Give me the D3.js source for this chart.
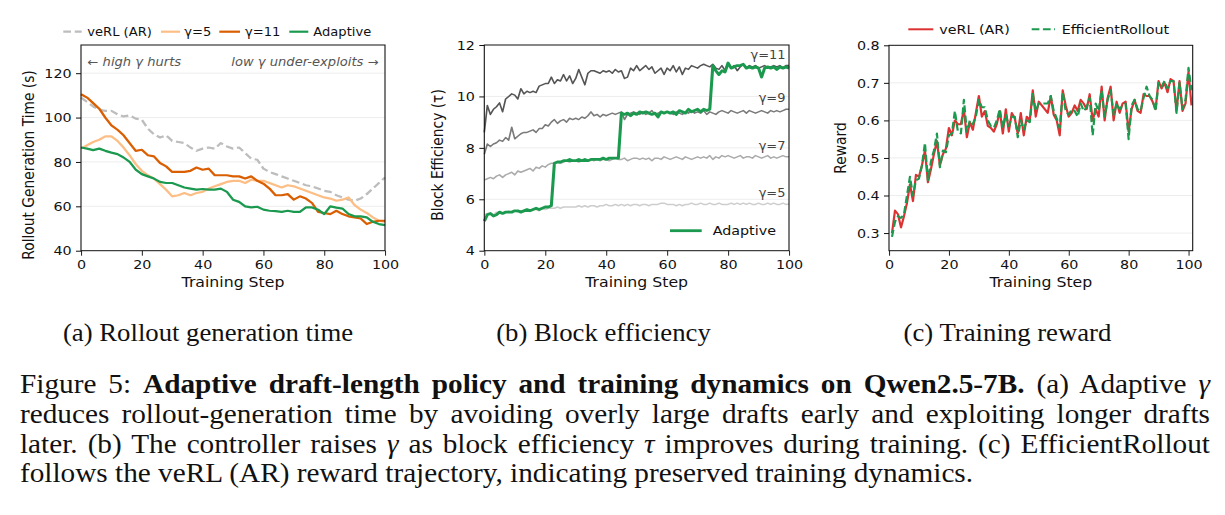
<!DOCTYPE html>
<html><head><meta charset="utf-8">
<script src="https://cdn.jsdelivr.net/npm/d3@7"></script>
<style>body{margin:0;background:#fff}svg{display:block}</style>
</head><body>
<script>
// ---------------- DATA ----------------
// (a) Rollout generation time (s), every 2 training steps
const stepsA = [0,2,4,6,8,10,12,14,16,18,20,22,24,26,28,30,32,34,36,38,40,42,44,46,48,50,52,54,56,58,60,62,64,66,68,70,72,74,76,78,80,82,84,86,88,90,92,94,96,98,100];
const timeVerl = [109,107,105,103.5,103,103,101.5,100.5,101,99.5,99,95,92.5,91,92,89.5,89,88.5,86.5,85,86,86.5,86,88.5,87,86,86.5,84,81.5,81,77,75.5,74.5,73.5,72.5,71.5,70.5,69.5,69,68,67,66.5,65,64,63,62.5,63.5,65.5,68,70.5,73];
const timeG5 = [86,87.5,89,90,91.5,91.5,89.5,86.5,83,79,76,74,72.5,70,67.5,64.5,65,66,65,66,66.5,68,69,70,71,71.5,71.5,70.5,72,71.5,71.5,70.5,69.5,68.5,69.5,69,68,67,66,65,64,63.5,62.5,63,64,60.5,58.5,57,55,53.5,53];
const timeG11 = [110.5,109,106.5,104,100,96.5,94.5,92,88.5,85,85.5,83,82.5,79.5,78,75.5,75.5,75.5,76,77.5,76.5,77,74,74,74,73.5,73.5,72.5,73.5,71.5,70.2,68,65,65,65.5,63,64.5,63.5,61.5,57.5,57,56.5,58,56.5,55.5,55,54.5,52,53,53.5,53.5];
const timeAdaptive = [86.5,86,85.3,86,85,84.2,83.5,82,80,76.5,74.5,73.5,72.5,71,70.5,70.5,69.5,68.5,68,67.5,67.8,67.5,67.5,68,66.5,63,62,60,59.5,59.8,58.5,58,57.8,57.5,58,57.5,57.5,59.5,59.5,58.5,56.5,60,59.4,59,56.5,55.5,55.5,55,53,52,51.5];
const seriesA = ["veRL (AR)","γ=5","γ=11","Adaptive"];
const ticksA_y = [40,60,80,100,120];

// (b) Block efficiency (tau), steps 0..100
const stepsB = [0,1,2,3,4,5,6,7,8,9,10,11,12,13,14,15,16,17,18,19,20,21,22,23,24,25,26,27,28,29,30,31,32,33,34,35,36,37,38,39,40,41,42,43,44,45,46,47,48,49,50,51,52,53,54,55,56,57,58,59,60,61,62,63,64,65,66,67,68,69,70,71,72,73,74,75,76,77,78,79,80,81,82,83,84,85,86,87,88,89,90,91,92,93,94,95,96,97,98,99,100];
const tauG11 = [8.6,9.65,9.3,9.5,9.6,9.75,9.4,9.9,10.0,10.1,
 10.05,9.9,10.3,10.1,10.2,10.15,10.2,10.15,10.4,10.45,
 10.5,10.5,10.75,10.5,10.65,10.6,10.85,10.6,10.8,10.5,
 10.7,11.05,10.75,10.45,10.9,11.0,11.0,10.95,10.9,11.0,
 10.95,11.0,10.9,11.05,10.95,11.0,10.7,10.75,11.1,11.0,
 11.2,11.0,11.1,11.2,11.05,11.15,10.9,11.0,11.1,10.85,
 11.1,11.0,11.2,10.95,11.15,10.85,11.1,11.05,11.2,11.15,
 11.1,11.2,11.25,11.2,11.15,11.25,11.1,11.05,11.2,11.0,
 11.3,11.1,11.2,11.0,11.15,11.25,11.1,11.2,11.15,11.2,
 11.1,11.15,11.2,11.1,11.15,11.2,11.15,11.2,11.1,11.2,
 11.2];
const tauG9 = [7.75,8.15,8.05,8.15,8.2,8.3,8.25,8.4,8.3,8.8,
 8.35,8.45,8.55,8.6,8.6,8.65,8.7,8.6,8.75,8.75,
 8.9,8.85,9.0,9.1,8.95,9.05,9.1,9.0,9.15,9.1,
 9.15,9.1,9.2,9.15,9.25,9.4,9.25,9.3,9.2,9.3,
 9.25,9.3,9.35,9.3,9.35,9.4,9.1,9.3,9.35,9.4,
 9.35,9.3,9.4,9.3,9.35,9.45,9.3,9.35,9.4,9.35,
 9.4,9.35,9.3,9.4,9.35,9.3,9.4,9.35,9.45,9.35,
 9.4,9.35,9.45,9.3,9.4,9.35,9.3,9.4,9.45,9.4,
 9.35,9.45,9.4,9.35,9.4,9.45,9.35,9.45,9.4,9.35,
 9.4,9.45,9.4,9.35,9.45,9.4,9.45,9.4,9.45,9.5,
 9.5];
const tauG7 = [6.75,6.8,6.85,6.8,6.9,6.95,6.85,6.95,7.0,7.05,
 6.95,7.1,7.05,7.1,7.15,7.2,7.1,7.25,7.2,7.3,
 7.25,7.35,7.4,7.4,7.45,7.4,7.45,7.5,7.45,7.5,
 7.5,7.45,7.5,7.55,7.5,7.55,7.5,7.55,7.5,7.55,
 7.55,7.5,7.55,7.6,7.55,7.55,7.6,7.5,7.55,7.6,
 7.6,7.55,7.6,7.55,7.6,7.5,7.6,7.6,7.55,7.65,
 7.6,7.55,7.6,7.65,7.6,7.55,7.65,7.6,7.55,7.6,
 7.65,7.6,7.65,7.6,7.7,7.55,7.65,7.6,7.7,7.65,
 7.7,7.65,7.6,7.65,7.7,7.6,7.65,7.65,7.6,7.7,
 7.65,7.6,7.65,7.7,7.6,7.65,7.6,7.65,7.7,7.65,
 7.65];
const tauG5 = [5.4,5.45,5.45,5.4,5.5,5.5,5.45,5.5,5.55,5.5,
 5.55,5.5,5.55,5.5,5.6,5.55,5.6,5.6,5.55,5.65,
 5.6,5.65,5.65,5.65,5.7,5.65,5.7,5.7,5.7,5.7,
 5.7,5.75,5.7,5.75,5.7,5.75,5.75,5.7,5.75,5.75,
 5.8,5.75,5.75,5.8,5.75,5.8,5.75,5.8,5.75,5.8,
 5.8,5.75,5.8,5.8,5.75,5.8,5.8,5.8,5.85,5.85,
 5.8,5.8,5.8,5.75,5.8,5.75,5.8,5.8,5.85,5.8,
 5.8,5.85,5.8,5.8,5.85,5.8,5.8,5.85,5.8,5.8,
 5.8,5.85,5.8,5.85,5.8,5.85,5.8,5.85,5.8,5.8,
 5.85,5.8,5.8,5.85,5.8,5.85,5.8,5.8,5.85,5.8,
 5.82];
const tauAdaptive = [5.15,5.4,5.45,5.35,5.4,5.5,5.45,5.5,5.5,5.5,
 5.55,5.55,5.5,5.55,5.6,5.55,5.6,5.65,5.6,5.65,
 5.7,5.7,5.75,7.4,7.45,7.45,7.5,7.5,7.55,7.5,
 7.5,7.55,7.5,7.55,7.5,7.55,7.55,7.55,7.55,7.6,
 7.55,7.6,7.6,7.6,7.6,9.35,9.3,9.35,9.25,9.35,
 9.3,9.4,9.35,9.4,9.35,9.3,9.35,9.2,9.4,9.35,
 9.4,9.35,9.4,9.3,9.45,9.4,9.35,9.5,9.4,9.45,
 9.5,9.4,9.5,9.45,9.5,11.2,11.0,10.85,11.0,10.95,
 11.3,11.1,11.15,11.2,11.2,11.25,11.1,11.15,11.1,11.15,
 11.1,10.75,11.1,11.15,11.1,11.15,11.05,11.15,11.1,11.15,
 11.1];
const gammaLabels = ["γ=11","γ=9","γ=7","γ=5"];
const ticksB_y = [4,6,8,10,12];

// (c) Training reward, steps 1..101
const stepsC = [1,2,3,4,5,6,7,8,9,10,11,12,13,14,15,16,17,18,19,20,21,22,23,24,25,26,27,28,29,30,31,32,33,34,35,36,37,38,39,40,41,42,43,44,45,46,47,48,49,50,51,52,53,54,55,56,57,58,59,60,61,62,63,64,65,66,67,68,69,70,71,72,73,74,75,76,77,78,79,80,81,82,83,84,85,86,87,88,89,90,91,92,93,94,95,96,97,98,99,100,101];
const rewardVerl = [0.30,0.36,0.35,0.315,0.345,0.38,0.43,0.385,0.455,0.45,
 0.48,0.52,0.435,0.47,0.51,0.545,0.48,0.51,0.525,0.58,
 0.56,0.60,0.59,0.59,0.63,0.555,0.595,0.575,0.62,0.665,
 0.61,0.625,0.585,0.58,0.57,0.59,0.625,0.565,0.63,0.57,
 0.62,0.605,0.565,0.62,0.56,0.61,0.60,0.68,0.61,0.65,
 0.64,0.63,0.62,0.665,0.615,0.60,0.56,0.68,0.64,0.61,
 0.62,0.64,0.625,0.655,0.645,0.63,0.67,0.60,0.63,0.61,
 0.69,0.60,0.66,0.69,0.60,0.65,0.62,0.645,0.65,0.57,
 0.63,0.655,0.625,0.62,0.67,0.665,0.665,0.65,0.63,0.705,
 0.685,0.70,0.675,0.71,0.705,0.625,0.705,0.625,0.645,0.73,
 0.64];
const rewardEff = [0.29,0.33,0.345,0.34,0.35,0.40,0.45,0.40,0.44,0.445,
 0.48,0.54,0.44,0.49,0.52,0.565,0.475,0.52,0.515,0.56,
 0.565,0.625,0.57,0.565,0.655,0.57,0.60,0.59,0.61,0.655,
 0.635,0.635,0.60,0.585,0.58,0.60,0.63,0.58,0.615,0.585,
 0.61,0.61,0.555,0.60,0.575,0.60,0.595,0.67,0.625,0.645,
 0.645,0.645,0.645,0.665,0.625,0.605,0.58,0.675,0.625,0.615,
 0.63,0.625,0.61,0.645,0.625,0.635,0.66,0.56,0.645,0.625,
 0.68,0.61,0.655,0.68,0.615,0.645,0.63,0.64,0.645,0.55,
 0.64,0.655,0.63,0.625,0.66,0.69,0.665,0.655,0.625,0.70,
 0.69,0.705,0.685,0.705,0.705,0.62,0.70,0.63,0.655,0.74,
 0.68];
const seriesC = ["veRL (AR)","EfficientRollout"];
const ticksC_y = [0.3,0.4,0.5,0.6,0.7,0.8];
const ticksX = [0,20,40,60,80,100];

const subCaptions = ["(a) Rollout generation time","(b) Block efficiency","(c) Training reward"];
const captionLines = [
  [{t:"Figure 5: "},{t:"Adaptive draft-length policy and training dynamics on Qwen2.5-7B.",b:1},{t:" (a) Adaptive "},{t:"γ",i:1}],
  [{t:"reduces rollout-generation time by avoiding overly large drafts early and exploiting longer drafts"}],
  [{t:"later. (b) The controller raises "},{t:"γ",i:1},{t:" as block efficiency "},{t:"τ",i:1},{t:" improves during training. (c) EfficientRollout"}],
  [{t:"follows the veRL (AR) reward trajectory, indicating preserved training dynamics."}]
];

// ---------------- DRAWING ----------------
const S = 1.1;               // horizontal stretch of the reference picture
const VW = 1225 / S;
const X = v => v / S;
const FONT = "DejaVu Sans";
const svg = d3.select("body").append("svg")
  .attr("width",1225).attr("height",515)
  .attr("viewBox",`0 0 ${VW} 515`).attr("preserveAspectRatio","none");

function panel(cfg){
  const g = svg.append("g");
  const x = d3.scaleLinear().domain(cfg.xDomain).range([X(cfg.l), X(cfg.r)]);
  const y = d3.scaleLinear().domain(cfg.yDomain).range([cfg.b, cfg.t]);
  g.selectAll("line.grid").data(cfg.yTicks.filter(d=>y(d)>cfg.t+1 && y(d)<cfg.b-1)).join("line")
    .attr("class","grid").attr("x1",X(cfg.l)).attr("x2",X(cfg.r))
    .attr("y1",d=>y(d)).attr("y2",d=>y(d)).attr("stroke","#ececec").attr("stroke-width",0.9);
  const ax = g.append("g").attr("transform",`translate(0,${cfg.b})`)
    .call(d3.axisBottom(x).tickValues(ticksX).tickSize(5).tickPadding(4.5).tickFormat(d3.format("d")));
  const ay = g.append("g").attr("transform",`translate(${X(cfg.l)},0)`)
    .call(d3.axisLeft(y).tickValues(cfg.yTicks).tickSize(5/S).tickPadding(4).tickFormat(cfg.yFmt));
  [ax,ay].forEach(a=>{
    a.select(".domain").remove();
    a.selectAll("text").attr("font-family",FONT).attr("font-size",13).attr("fill","#111");
    a.selectAll("line").attr("stroke","#111");
  });
  ax.selectAll("line").attr("stroke-width",0.9);
  ay.selectAll("line").attr("stroke-width",1);
  g.append("text").attr("x",(X(cfg.l)+X(cfg.r))/2).attr("y",287.3).attr("text-anchor","middle")
    .attr("font-family",FONT).attr("font-size",14.3).attr("fill","#111").text("Training Step");
  g.append("text").attr("transform",`translate(${X(cfg.ylx)},${cfg.ylc}) rotate(-90)`)
    .attr("text-anchor","middle").attr("font-family",FONT).attr("font-size",13.8).attr("fill","#111").text(cfg.yLabel);
  const lines = g.append("g");
  g.append("rect").attr("x",X(cfg.l)).attr("y",cfg.t).attr("width",X(cfg.r)-X(cfg.l)).attr("height",cfg.b-cfg.t)
    .attr("fill","none").attr("stroke","#111").attr("stroke-width",1);
  return {g,x,y,lines};
}
function drawLine(p, xs, ys, color, w, dash){
  const gen = d3.line().x((d,i)=>p.x(xs[i])).y(d=>p.y(d));
  p.lines.append("path").datum(ys).attr("d",gen).attr("fill","none")
    .attr("stroke",color).attr("stroke-width",w).attr("stroke-linejoin","round")
    .attr("stroke-dasharray",dash||null);
}
function legendItem(x1,x2,tx,yc,label,color,w,dash,fs){
  svg.append("line").attr("x1",X(x1)).attr("x2",X(x2)).attr("y1",yc).attr("y2",yc)
    .attr("stroke",color).attr("stroke-width",w).attr("stroke-dasharray",dash||null);
  svg.append("text").attr("x",X(tx)).attr("y",yc).attr("dy","0.36em").attr("font-family",FONT)
    .attr("font-size",fs).attr("fill","#111").text(label);
}

const C = {verl:"#bdbdbd", g5:"#fdbe85", g11:"#d95f02", ad:"#1b9a4f", red:"#dc3232"};

// ----- panel (a)
const pa = panel({l:81,r:385,t:45,b:250.7,xDomain:[0,100],yDomain:[40,132.7],yTicks:ticksA_y,yFmt:d3.format("d"),ylx:33.5,ylc:165,yLabel:"Rollout Generation Time (s)"});
drawLine(pa, stepsA, timeVerl, C.verl, 2.2, "7,3.4");
drawLine(pa, stepsA, timeG5, C.g5, 2.2);
drawLine(pa, stepsA, timeG11, C.g11, 2.2);
drawLine(pa, stepsA, timeAdaptive, C.ad, 2.2);
pa.g.append("text").attr("x",X(87.5)).attr("y",66).attr("font-family",FONT).attr("font-style","italic")
  .attr("font-size",11.9).attr("fill","#555").text("← high γ hurts");
pa.g.append("text").attr("x",X(378.5)).attr("y",66).attr("text-anchor","end").attr("font-family",FONT).attr("font-style","italic")
  .attr("font-size",11.9).attr("fill","#555").text("low γ under-exploits →");
legendItem(63.3,81.7,87.3,31.7,seriesA[0],C.verl,2.2,"7,3.4",11.9);
legendItem(161,180,184.3,31.7,seriesA[1],C.g5,2.2,null,11.9);
legendItem(219.3,240,245,31.7,seriesA[2],C.g11,2.2,null,11.9);
legendItem(289.3,308.3,313.3,31.7,seriesA[3],C.ad,2.2,null,11.9);

// ----- panel (b)
const pb = panel({l:484.3,r:789,t:45,b:250.7,xDomain:[0,100],yDomain:[4,12],yTicks:ticksB_y,yFmt:d3.format("d"),ylx:443,ylc:155,yLabel:"Block Efficiency (τ)"});
const grays = [["#555555",tauG11],["#7a7a7a",tauG9],["#ababab",tauG7],["#cdcdcd",tauG5]];
grays.slice().reverse().forEach(([c,v])=>drawLine(pb, stepsB, v, c, 1.5));
drawLine(pb, stepsB, tauAdaptive, C.ad, 2.8);
grays.forEach(([c,v],i)=>{
  pb.g.append("text").attr("x",X(785.5)).attr("y",pb.y(v[v.length-1])-7).attr("text-anchor","end")
    .attr("font-family",FONT).attr("font-size",11.8).attr("fill","#444").text(gammaLabels[i]);
});
legendItem(670,701.7,712.7,230.7,"Adaptive",C.ad,2.8,null,13);

// ----- panel (c)
const pc = panel({l:889,r:1192.7,t:45.3,b:250.7,xDomain:[0,101.4],yDomain:[0.253,0.8],yTicks:ticksC_y,yFmt:d3.format(".1f"),ylx:846,ylc:148,yLabel:"Reward"});
drawLine(pc, stepsC, rewardVerl, C.red, 2);
drawLine(pc, stepsC, rewardEff, C.ad, 2, "7,3.2");
legendItem(908.3,933.3,939.3,29.3,seriesC[0],C.red,2,null,13);
legendItem(1031.7,1055,1061.7,29.3,seriesC[1],C.ad,2,"7,3.2",13);

// ----- captions
const SERIF = "Liberation Serif";
[208,603.5,1007.5].forEach((cx,i)=>{
  svg.append("text").attr("x",X(cx)).attr("y",341).attr("text-anchor","middle")
    .attr("font-family",SERIF).attr("font-size",24.3).attr("fill","#111").text(subCaptions[i]);
});
const baselines = [393.3,423,452.7,482.4];
captionLines.forEach((parts,li)=>{
  const t = svg.append("text").attr("x",X(20)).attr("y",baselines[li])
    .attr("font-family",SERIF).attr("font-size",26.6).attr("fill","#111");
  parts.forEach(p=>{
    t.append("tspan").attr("font-weight",p.b?"bold":null).attr("font-style",p.i?"italic":null).text(p.t);
  });
  if (li < captionLines.length-1){
    const full = parts.map(p=>p.t).join("");
    const nSp = (full.match(/ /g)||[]).length;
    const len = t.node().getComputedTextLength();
    const target = X(1210) - X(20);
    t.attr("word-spacing", (target-len)/nSp);
  }
});
</script>
</body></html>
